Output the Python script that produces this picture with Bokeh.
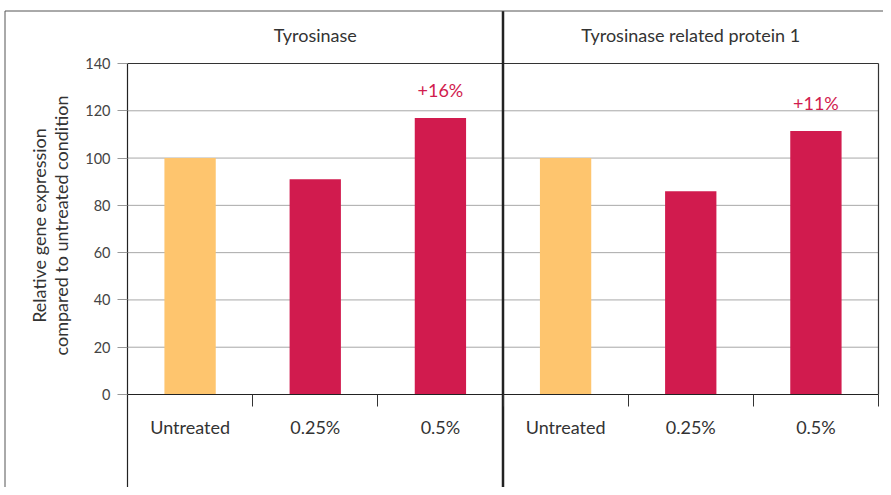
from bokeh.plotting import figure
from bokeh.models import Range1d, LinearAxis, FixedTicker, Label, ColumnDataSource
from bokeh.core.properties import value
from bokeh.embed import file_html
from bokeh.resources import INLINE

# ---- data ----
groups = ["Tyrosinase", "Tyrosinase related protein 1"]
categories = ["Untreated", "0.25%", "0.5%"]
tyrosinase = [100, 91, 117]
trp1 = [100, 86, 111.5]
changes_tyr = ["", "", "+16%"]
changes_trp1 = ["", "", "+11%"]
y_ticks = [0, 20, 40, 60, 80, 100, 120, 140]
y_label_lines = ["Relative gene expression", "compared to untreated condition"]

# ---- layout helpers (canvas pixels -> data) ----
W, H = 883, 487
PX0, PX6 = 127.0, 878.0      # canvas x of category-axis 0 and 6
PY0, PY140 = 394.0, 63.0     # canvas y of value 0 and 140
SX = (PX6 - PX0) / 6.0
SY = (PY0 - PY140) / 140.0
def dx(px):
    return (px - PX0) / SX
def dy(py):
    return (PY0 - py) / SY

FONT = "Lato"
TEXT = "#333333"
ORANGE = "#FEC56E"
RED = "#D11B4E"

p = figure(width=W, height=H,
           x_range=Range1d(dx(0), dx(W)),
           y_range=Range1d(dy(H), dy(0)),
           x_axis_location=None, y_axis_location=None,
           min_border=0, output_backend="svg", toolbar_location=None)
p.outline_line_color = None
p.grid.visible = False
p.background_fill_color = "white"
p.border_fill_color = "white"

n = len(categories)
ng = len(groups)
total = n * ng

# grid lines (inner ticks)
inner = y_ticks[1:-1]
p.segment(x0=[0] * len(inner), x1=[total] * len(inner), y0=inner, y1=inner,
          line_color="#a8a8a8", line_width=1)

# bars
xs = [i + 0.5 for i in range(total)]
vals = tyrosinase + trp1
cols = [ORANGE if c == categories[0] else RED for c in categories] * ng
src = ColumnDataSource(dict(x=xs, top=vals, color=cols))
p.vbar(x="x", top="top", width=0.41, bottom=0, fill_color="color",
       line_color=None, source=src)

# change annotations
chg = changes_tyr + changes_trp1
cx = [x for x, c in zip(xs, chg) if c]
cy = [v + 12 for v, c in zip(vals, chg) if c]
ct = [c for c in chg if c]
p.text(x=cx, y=cy, text=ct, text_align="center", text_baseline="middle",
       text_font=value(FONT), text_font_size="18px", text_color=RED)

# frame top and right borders
p.segment(x0=[0], x1=[total], y0=[y_ticks[-1]], y1=[y_ticks[-1]],
          line_color="#333333", line_width=1.2)
p.segment(x0=[total], x1=[total], y0=[0], y1=[y_ticks[-1]],
          line_color="#333333", line_width=1.2)

# divider between panels
top_border = dy(10.5)
p.segment(x0=[n], x1=[n], y0=[dy(H)], y1=[top_border],
          line_color="#222222", line_width=2.5)

# outer border (top and left)
p.segment(x0=[dx(4.5)], x1=[dx(W)], y0=[top_border], y1=[top_border],
          line_color="#555555", line_width=1)
p.segment(x0=[dx(4.5)], x1=[dx(4.5)], y0=[dy(H)], y1=[top_border],
          line_color="#555555", line_width=1)

# y axis
yax = LinearAxis(fixed_location=0, ticker=FixedTicker(ticks=y_ticks),
                 bounds=(dy(490), y_ticks[-1]))
yax.axis_line_color = "#222222"
yax.axis_line_width = 1.2
yax.major_tick_line_color = "#999999"
yax.major_tick_out = 10
yax.major_tick_in = 0
yax.minor_tick_line_color = None
yax.major_label_standoff = 7
yax.major_label_text_font = FONT
yax.major_label_text_font_size = "14.5px"
yax.major_label_text_color = "#444444"
p.add_layout(yax, "left")

# x axis: boundary ticks
xax = LinearAxis(fixed_location=0, ticker=FixedTicker(ticks=list(range(1, total + 1))),
                 bounds=(0, total))
xax.axis_line_color = "#222222"
xax.axis_line_width = 1.2
xax.major_tick_line_color = "#333333"
xax.major_tick_out = 12
xax.major_tick_in = 0
xax.minor_tick_line_color = None
xax.major_label_text_alpha = 0
xax.major_label_text_font_size = "1px"
p.add_layout(xax, "below")

# x axis: category labels at bar centres
lab = LinearAxis(fixed_location=0, ticker=FixedTicker(ticks=xs),
                 major_label_overrides={x: c for x, c in zip(xs, categories * ng)})
lab.axis_line_color = None
lab.major_tick_line_color = None
lab.minor_tick_line_color = None
lab.major_label_standoff = 15
lab.major_label_text_font = FONT
lab.major_label_text_font_size = "18px"
lab.major_label_text_color = TEXT
p.add_layout(lab, "below")

# panel titles
for i, g in enumerate(groups):
    p.add_layout(Label(x=i * n + n / 2, y=dy(34.5), text=g, text_align="center",
                       text_baseline="middle", text_font=FONT,
                       text_font_size="18px", text_color=TEXT))

# y axis title (two lines)
for line, px in zip(y_label_lines, [38, 60]):
    p.add_layout(Label(x=dx(px), y=dy(225), text=line, angle=90, angle_units="deg",
                       text_align="center", text_baseline="middle", text_font=FONT,
                       text_font_size="18px", text_color=TEXT))

open("out.html", "w").write(file_html(p, INLINE))
